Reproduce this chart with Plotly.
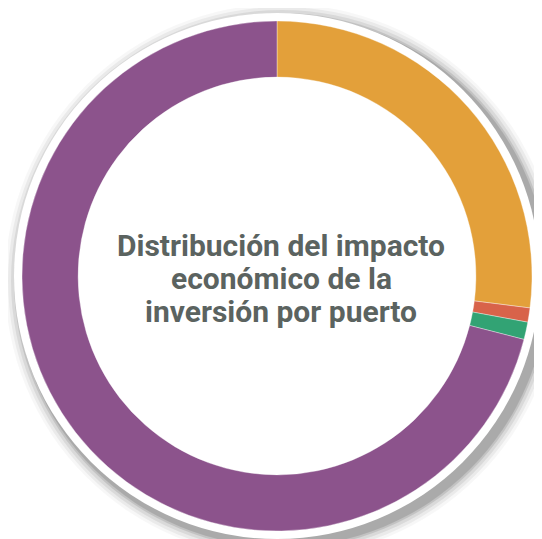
import plotly.graph_objects as go

labels = ["Puerto A", "Puerto B", "Puerto C", "Puerto D"]
values = [27.0, 0.9, 1.1, 71.0]
colors = ["#E3A03A", "#D8634A", "#32A374", "#8C538C"]
title_lines = ["Distribución del impacto", "económico de la", "inversión por puerto"]

W, H = 542, 539
OFF = 8  # page body margin offset
cx, cy, r = 277 - OFF, 276 - OFF, 255

def px(x):
    return x / W

def py(y):
    return 1 - y / H

shapes = []
for rad, op in [(277, 0.03), (274, 0.05), (271, 0.07), (268, 0.10), (266, 0.12)]:
    sx, sy = cx + 5, cy + 5
    shapes.append(dict(type="circle", xref="paper", yref="paper", layer="below",
                       x0=px(sx - rad), x1=px(sx + rad), y0=py(sy + rad), y1=py(sy - rad),
                       fillcolor=f"rgba(0,0,0,{op})", line=dict(width=0)))
rw = 263
shapes.append(dict(type="circle", xref="paper", yref="paper", layer="below",
                   x0=px(cx - rw), x1=px(cx + rw), y0=py(cy + rw), y1=py(cy - rw),
                   fillcolor="white", line=dict(width=0)))

fig = go.Figure(go.Pie(
    labels=labels, values=values, hole=0.78, sort=False, direction="clockwise",
    rotation=0, textinfo="none", hoverinfo="label+percent",
    marker=dict(colors=colors, line=dict(color="rgba(255,255,255,0.6)", width=0.6)),
    domain=dict(x=[px(cx - r), px(cx + r)], y=[py(cy + r), py(cy - r)]),
    showlegend=False,
))

line_y = [245, 278, 311]
for txt, ly in zip(title_lines, line_y):
    fig.add_annotation(text=txt, x=px(281 - OFF), y=py(ly - OFF), xref="paper", yref="paper",
                       showarrow=False, align="center", xanchor="center", yanchor="middle",
                       font=dict(family="Roboto", size=30, color="#5B6360", weight="bold"))

fig.update_layout(width=W, height=H, margin=dict(l=0, r=0, t=0, b=0),
                  paper_bgcolor="white", plot_bgcolor="white", shapes=shapes)

fig.write_html("out.html")
